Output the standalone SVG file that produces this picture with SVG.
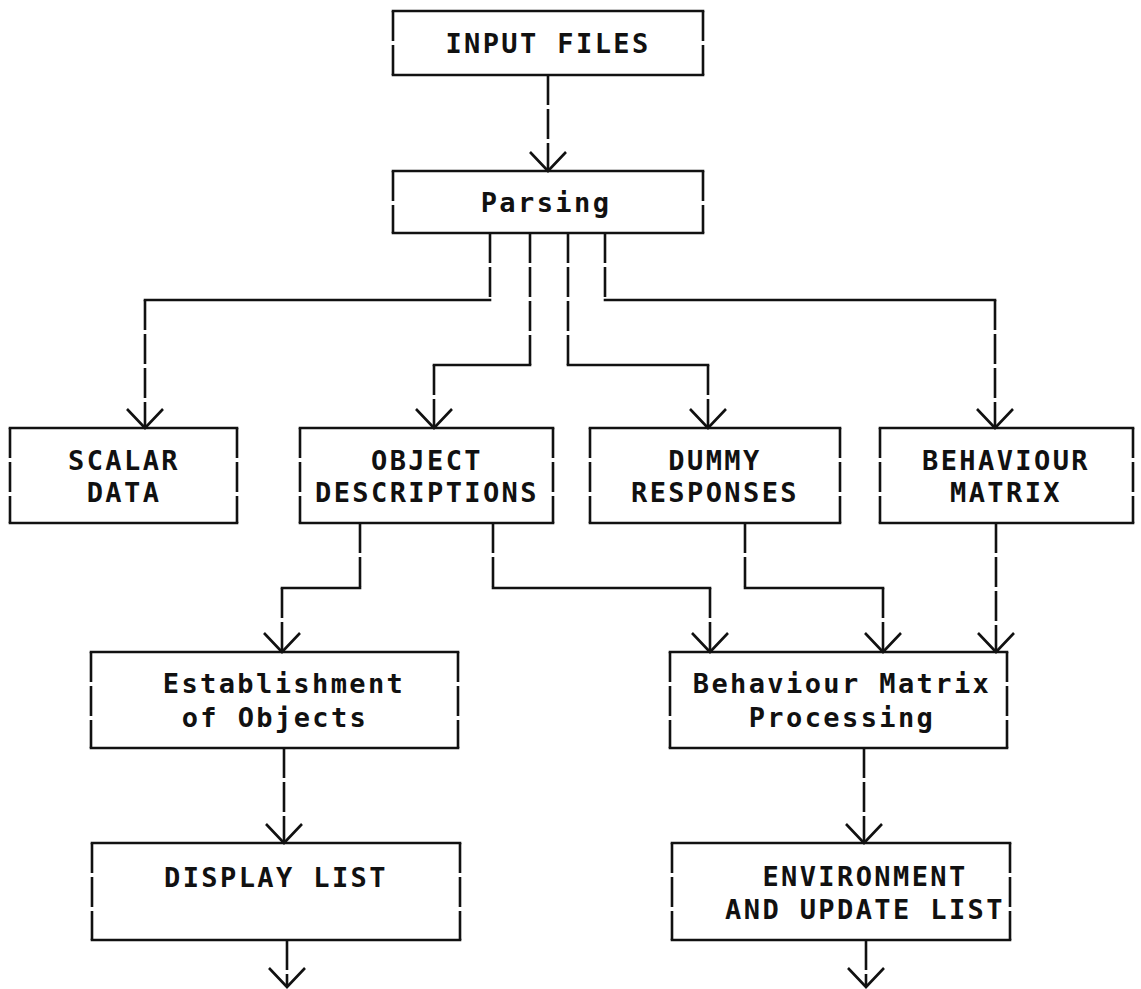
<svg xmlns="http://www.w3.org/2000/svg" width="1141" height="989" viewBox="0 0 1141 989">
  <defs>
    <style>
      .edge{stroke:#111;stroke-width:2.6;fill:none;stroke-linecap:square}
      .side{stroke:#111;stroke-width:2.6;fill:none;stroke-dasharray:30 4}
      .run{stroke:#111;stroke-width:2.6;fill:none;stroke-linecap:square}
      .drop{stroke:#111;stroke-width:2.6;fill:none;stroke-dasharray:30 4}
      .lbl{font-family:"DejaVu Sans Mono","Liberation Mono",monospace;font-size:27px;font-weight:bold;fill:#111;text-anchor:middle;letter-spacing:2.4px}
    </style>
    <marker id="vee" markerUnits="userSpaceOnUse" markerWidth="44" markerHeight="44" viewBox="-22 -22 44 44" refX="0" refY="0" orient="auto" overflow="visible">
      <path d="M-19,-18 L0,0 L-19,18" fill="none" stroke="#111" stroke-width="2.6" stroke-dasharray="none"/>
    </marker>
  </defs>
  <rect width="1141" height="989" fill="#fff"/>

  <!-- process / data boxes: solid top and bottom, dashed sides -->
  <g id="input-files">
    <path class="edge" d="M393,11 H703 M393,75 H703"/>
    <path class="side" d="M393,11 V75 M703,11 V75"/>
    <text class="lbl" x="548" y="53">INPUT FILES</text>
  </g>
  <g id="parsing">
    <path class="edge" d="M393,171 H703 M393,233 H703"/>
    <path class="side" d="M393,171 V233 M703,171 V233"/>
    <text class="lbl" x="546" y="212">Parsing</text>
  </g>
  <g id="scalar-data">
    <path class="edge" d="M10,428 H237 M10,523 H237"/>
    <path class="side" d="M10,428 V523 M237,428 V523"/>
    <text class="lbl" x="124" y="470">SCALAR</text>
    <text class="lbl" x="124" y="502">DATA</text>
  </g>
  <g id="object-descriptions">
    <path class="edge" d="M300,428 H553 M300,523 H553"/>
    <path class="side" d="M300,428 V523 M553,428 V523"/>
    <text class="lbl" x="427" y="470">OBJECT</text>
    <text class="lbl" x="427" y="502">DESCRIPTIONS</text>
  </g>
  <g id="dummy-responses">
    <path class="edge" d="M590,428 H840 M590,523 H840"/>
    <path class="side" d="M590,428 V523 M840,428 V523"/>
    <text class="lbl" x="715" y="470">DUMMY</text>
    <text class="lbl" x="715" y="502">RESPONSES</text>
  </g>
  <g id="behaviour-matrix">
    <path class="edge" d="M880,428 H1133 M880,523 H1133"/>
    <path class="side" d="M880,428 V523 M1133,428 V523"/>
    <text class="lbl" x="1006" y="470">BEHAVIOUR</text>
    <text class="lbl" x="1006" y="502">MATRIX</text>
  </g>
  <g id="establishment">
    <path class="edge" d="M91,652 H458 M91,748 H458"/>
    <path class="side" d="M91,652 V748 M458,652 V748"/>
    <text class="lbl" x="284" y="693">Establishment</text>
    <text class="lbl" x="275" y="727">of Objects</text>
  </g>
  <g id="matrix-processing">
    <path class="edge" d="M670,652 H1007 M670,748 H1007"/>
    <path class="side" d="M670,652 V748 M1007,652 V748"/>
    <text class="lbl" x="842" y="693">Behaviour Matrix</text>
    <text class="lbl" x="842" y="727">Processing</text>
  </g>
  <g id="display-list">
    <path class="edge" d="M92,843 H460 M92,940 H460"/>
    <path class="side" d="M92,843 V940 M460,843 V940"/>
    <text class="lbl" x="276" y="887">DISPLAY LIST</text>
  </g>
  <g id="environment-update">
    <path class="edge" d="M672,843 H1010 M672,940 H1010"/>
    <path class="side" d="M672,843 V940 M1010,843 V940"/>
    <text class="lbl" x="865" y="886">ENVIRONMENT</text>
    <text class="lbl" x="865" y="919">AND UPDATE LIST</text>
  </g>

  <!-- connectors: dashed vertical drops, solid horizontal runs -->
  <g id="connectors">
    <path class="drop" d="M548,75 V171" marker-end="url(#vee)"/>

    <path class="drop" d="M490,233 V300"/>
    <path class="run" d="M490,300 H145"/>
    <path class="drop" d="M145,300 V428" marker-end="url(#vee)"/>

    <path class="drop" d="M530,233 V365"/>
    <path class="run" d="M530,365 H434"/>
    <path class="drop" d="M434,365 V428" marker-end="url(#vee)"/>

    <path class="drop" d="M568,233 V365"/>
    <path class="run" d="M568,365 H708"/>
    <path class="drop" d="M708,365 V428" marker-end="url(#vee)"/>

    <path class="drop" d="M605,233 V300"/>
    <path class="run" d="M605,300 H995"/>
    <path class="drop" d="M995,300 V428" marker-end="url(#vee)"/>

    <path class="drop" d="M360,523 V588"/>
    <path class="run" d="M360,588 H282"/>
    <path class="drop" d="M282,588 V652" marker-end="url(#vee)"/>

    <path class="drop" d="M493,523 V588"/>
    <path class="run" d="M493,588 H710"/>
    <path class="drop" d="M710,588 V652" marker-end="url(#vee)"/>

    <path class="drop" d="M745,523 V588"/>
    <path class="run" d="M745,588 H883"/>
    <path class="drop" d="M883,588 V652" marker-end="url(#vee)"/>

    <path class="drop" d="M996,523 V652" marker-end="url(#vee)"/>

    <path class="drop" d="M284,748 V843" marker-end="url(#vee)"/>
    <path class="drop" d="M864,748 V843" marker-end="url(#vee)"/>

    <path class="drop" d="M287,940 V987" marker-end="url(#vee)"/>
    <path class="drop" d="M866,940 V987" marker-end="url(#vee)"/>
  </g>
</svg>
